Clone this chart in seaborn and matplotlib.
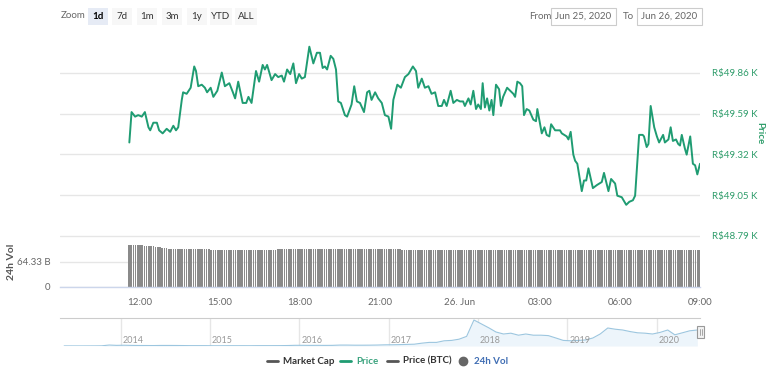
import pandas as pd
import matplotlib
matplotlib.use('Agg')
import matplotlib.pyplot as plt
from matplotlib.patches import Rectangle
from matplotlib.lines import Line2D
import seaborn as sns

# --- THEME ---
sns.set_theme(style='white')
plt.rcParams['font.family'] = ['Lato', 'DejaVu Sans']

W, H = 768, 372

# --- COLORS ---
GREEN = '#1f9c72'
GREEN_TXT = '#2f9d6b'
GRID = '#e6e6e6'
TXT = '#666666'

# --- DATA ---
# price: minutes after 25 Jun 09:00, value in R$ thousands
price_min = [156, 161, 169, 176, 184, 191, 199, 203, 210, 218,
             223, 231, 240, 248, 255, 261, 266, 274, 277, 285,
             294, 302, 306, 311, 319, 326, 331, 339, 345, 354,
             364, 371, 381, 389, 394, 401, 411, 419, 424, 431,
             441, 448, 456, 461, 466, 476, 484, 491, 499, 504,
             511, 518, 525, 531, 538, 544, 551, 561, 570, 578,
             585, 591, 596, 601, 609, 615, 621, 626, 632, 641,
             646, 656, 662, 668, 675, 684, 691, 696, 701, 709,
             716, 724, 731, 739, 745, 750, 759, 767, 776, 784,
             794, 801, 806, 814, 821, 829, 836, 844, 851, 859,
             864, 870, 879, 885, 893, 900, 907, 911, 919, 924,
             930, 936, 941, 947, 951, 956, 961, 966, 971, 975,
             981, 988, 992, 997, 1006, 1013, 1020, 1024, 1029, 1035,
             1040, 1044, 1050, 1056, 1065, 1071, 1074, 1084, 1090, 1095,
             1101, 1105, 1114, 1125, 1129, 1140, 1144, 1149, 1155, 1159,
             1164, 1174, 1179, 1184, 1189, 1199, 1208, 1219, 1224, 1234,
             1240, 1249, 1254, 1264, 1274, 1281, 1289, 1294, 1303, 1311,
             1314, 1320, 1324, 1329, 1337, 1343, 1348, 1357, 1361, 1369,
             1374, 1379, 1386, 1391, 1395, 1399, 1406, 1410, 1418, 1424,
             1429, 1434, 1440]
price_k = [49.40, 49.60, 49.57, 49.58, 49.57, 49.60, 49.50, 49.48, 49.53, 49.53,
           49.48, 49.46, 49.49, 49.47, 49.51, 49.48, 49.50, 49.68, 49.73, 49.72,
           49.76, 49.90, 49.87, 49.77, 49.78, 49.76, 49.73, 49.76, 49.70, 49.74,
           49.86, 49.77, 49.79, 49.73, 49.69, 49.80, 49.66, 49.66, 49.70, 49.66,
           49.87, 49.80, 49.91, 49.88, 49.91, 49.81, 49.85, 49.83, 49.84, 49.80,
           49.88, 49.85, 49.92, 49.79, 49.85, 49.82, 49.83, 50.03, 49.92, 49.99,
           49.99, 49.89, 49.90, 49.88, 49.97, 49.95, 49.88, 49.67, 49.66, 49.58,
           49.57, 49.65, 49.77, 49.67, 49.66, 49.60, 49.73, 49.74, 49.68, 49.73,
           49.69, 49.66, 49.58, 49.57, 49.49, 49.68, 49.78, 49.76, 49.83, 49.85,
           49.90, 49.87, 49.76, 49.82, 49.76, 49.77, 49.72, 49.73, 49.64, 49.64,
           49.68, 49.64, 49.74, 49.66, 49.68, 49.67, 49.67, 49.64, 49.69, 49.65,
           49.74, 49.62, 49.65, 49.62, 49.79, 49.63, 49.69, 49.61, 49.68, 49.58,
           49.78, 49.75, 49.64, 49.70, 49.76, 49.74, 49.72, 49.70, 49.80, 49.79,
           49.77, 49.58, 49.62, 49.61, 49.55, 49.54, 49.62, 49.46, 49.50, 49.45,
           49.44, 49.52, 49.48, 49.48, 49.46, 49.44, 49.42, 49.47, 49.32, 49.28,
           49.26, 49.08, 49.15, 49.15, 49.23, 49.10, 49.12, 49.14, 49.20, 49.08,
           49.16, 49.13, 49.05, 49.04, 48.99, 49.01, 49.02, 49.05, 49.45, 49.45,
           49.44, 49.37, 49.39, 49.64, 49.50, 49.44, 49.40, 49.45, 49.40, 49.42,
           49.50, 49.41, 49.42, 49.39, 49.38, 49.45, 49.36, 49.32, 49.44, 49.26,
           49.25, 49.19, 49.26]
price_ticks = [48.785, 49.053, 49.321, 49.589, 49.857]
price_labels = ['R$48.79 K', 'R$49.05 K', 'R$49.32 K', 'R$49.59 K', 'R$49.86 K']

# 24h volume (billions), one bar every 5 minutes from 11:35
vol_b = [106.0, 106.2, 105.8, 105.5, 105.3,
         105.0, 104.8, 104.5, 104.1, 103.6, 103.0, 102.4, 101.5, 100.6, 99.8, 98.9, 98.0,
         97.3, 96.8, 96.4, 96.0, 95.8, 95.6, 95.4, 95.3, 95.2, 95.1, 95.0, 95.0,
         94.9, 94.9, 94.8, 94.8, 94.8, 94.7, 94.7, 94.7, 94.6, 94.6, 94.6, 94.6,
         94.6, 94.5, 94.5, 94.6, 94.5, 94.5, 94.4, 94.5, 94.5, 94.4, 94.4, 94.5,
         94.5, 94.4, 94.4, 94.5, 94.4, 94.4, 94.5, 94.5, 94.4, 94.4, 94.5, 94.5,
         94.6, 94.6, 94.7, 94.7, 94.8, 94.8, 94.8, 94.9, 94.9, 95.0, 95.0, 95.0,
         95.1, 95.1, 95.2, 95.2, 95.2, 95.3, 95.3, 95.3, 95.3, 95.4, 95.4, 95.4,
         95.4, 95.4, 95.5, 95.5, 95.5, 95.5, 95.5, 95.5, 95.5, 95.5, 95.5, 95.4,
         95.4, 95.4, 95.4, 95.3, 95.3, 95.3, 95.3, 95.2, 95.2, 95.2, 95.2, 95.1,
         95.1, 95.1, 95.0, 95.0, 95.0, 94.9, 94.9, 94.8, 94.8, 94.7, 94.6, 94.5,
         94.3, 94.1, 93.9, 93.7, 93.5, 93.3, 93.1, 93.0, 92.9, 92.8, 92.7, 92.6,
         92.6, 92.5, 92.5, 92.5, 92.4, 92.4, 92.4, 92.4, 92.5, 92.5, 92.5, 92.6,
         92.6, 92.7, 92.7, 92.8, 92.8, 92.9, 92.9, 93.0, 93.0, 93.1, 93.1, 93.2,
         93.2, 93.3, 93.3, 93.3, 93.4, 93.4, 93.4, 93.5, 93.5, 93.5, 93.5, 93.6,
         93.6, 93.6, 93.6, 93.7, 93.7, 93.7, 93.7, 93.8, 93.8, 93.8, 93.8, 93.8,
         93.9, 93.9, 93.9, 93.9, 93.9, 94.0, 94.0, 94.0, 94.0, 94.0, 94.0, 94.1,
         94.1, 94.1, 94.1, 94.1, 94.1, 94.2, 94.2, 94.2, 94.2, 94.2, 94.2, 94.2,
         94.2, 94.3, 94.3, 94.3, 94.3, 94.3, 94.3, 94.3, 94.3, 94.3, 94.3, 94.3,
         94.3, 94.3, 94.3, 94.3, 94.3, 94.3, 94.3, 94.3, 94.3, 94.3, 94.3, 94.3,
         94.3, 94.3, 94.3, 94.3, 94.3, 94.3, 94.3, 94.3, 94.3, 94.3, 94.3, 94.3,
         94.3, 94.3, 94.3, 94.3, 94.3, 94.3, 94.3, 94.3, 94.3, 94.3, 94.3, 94.3,
         94.3]
vol_ticks = [0, 64.33, 128.66]
vol_labels = ['0', '64.33 B', '']

time_ticks = ['2020-06-25 12:00', '2020-06-25 15:00', '2020-06-25 18:00', '2020-06-25 21:00',
              '2020-06-26 00:00', '2020-06-26 03:00', '2020-06-26 06:00', '2020-06-26 09:00']
time_labels = ['12:00', '15:00', '18:00', '21:00', '26. Jun', '03:00', '06:00', '09:00']

# navigator: monthly price history (R$ thousands), May 2013 .. Jun 2020
nav_k = [0.25, 0.22, 0.20, 0.23, 0.29, 0.45, 2.4, 1.6,
         1.9, 1.5, 1.3, 1.2, 1.1, 1.4, 1.4, 1.3, 1.1, 0.9, 0.9, 0.85,
         0.6, 0.6, 0.75, 0.7, 0.72, 0.68, 0.85, 0.88, 0.88, 0.95, 1.2, 1.7,
         1.7, 1.5, 1.6, 1.5, 1.6, 2.3, 2.3, 2.0, 2.0, 2.1, 2.4, 2.9,
         3.1, 3.5, 4.0, 4.5, 7.0, 9.0, 9.0, 13.0, 14.0, 17.0, 24.0, 65.0,
         55.0, 45.0, 35.0, 30.0, 32.0, 27.0, 30.0, 27.0, 27.0, 26.0, 20.0, 14.0,
         13.0, 14.0, 15.0, 20.0, 30.0, 45.0, 42.0, 40.0, 36.0, 33.0, 32.0, 30.0,
         34.0, 40.0, 28.0, 33.0, 38.0, 40.0]
nav_years = ['2014', '2015', '2016', '2017', '2018', '2019', '2020']

range_buttons = ['1d', '7d', '1m', '3m', '1y', 'YTD', 'ALL']
legend_items = ['Market Cap', 'Price', 'Price (BTC)', '24h Vol']


def box(x0, y0, x1, y1):
    """pixel box (top-left origin) -> figure rect"""
    return [x0 / W, 1 - y1 / H, (x1 - x0) / W, (y1 - y0) / H]


def fx(x):
    return x / W


def fy(y):
    return 1 - y / H


fig = plt.figure(figsize=(W / 100, H / 100), dpi=100)
ax_p = fig.add_axes(box(60, 33, 700, 236))
ax_v = fig.add_axes(box(60, 236, 700, 287))
ax_n = fig.add_axes(box(60, 318, 700, 346))

t0 = pd.Timestamp('2020-06-25 09:00')
t1 = pd.Timestamp('2020-06-26 09:00')

# --- PRICE PANEL ---
price_df = pd.DataFrame({'time': t0 + pd.to_timedelta(price_min, unit='min'), 'price': price_k})
sns.lineplot(data=price_df, x='time', y='price', ax=ax_p, color=GREEN, linewidth=1.4, sort=False)
ax_p.set_xlim(t0, t1)
ax_p.set_ylim(48.785, 50.12)
ax_p.set_yticks(price_ticks)
ax_p.set_yticklabels(price_labels)
ax_p.yaxis.tick_right()
ax_p.tick_params(axis='y', length=0, pad=8.5, labelsize=7, labelcolor=GREEN_TXT)
ax_p.set_xticks([])
ax_p.grid(axis='y', color=GRID, linewidth=1)
ax_p.set_xlabel('')
ax_p.set_ylabel('')
for s in ax_p.spines.values():
    s.set_visible(False)
fig.text(fx(760), fy(133), 'Price', rotation=-90, ha='center', va='center',
         fontsize=7, fontweight='bold', color=GREEN_TXT)

# --- VOLUME PANEL ---
vol_df = pd.DataFrame({'time': pd.date_range('2020-06-25 11:35', periods=len(vol_b), freq='5min'),
                       'vol': vol_b})
ax_v.bar(vol_df['time'], vol_df['vol'], width=3.4 / 1440, color='#8a8a8a', linewidth=0)
ax_v.set_xlim(t0, t1)
ax_v.set_ylim(0, 128.66)
ax_v.set_yticks(vol_ticks)
ax_v.set_yticklabels(vol_labels)
ax_v.tick_params(axis='y', length=0, pad=7, labelsize=7, labelcolor=TXT)
ax_v.grid(axis='y', color=GRID, linewidth=1)
ax_v.set_axisbelow(True)
ax_v.set_xticks(pd.to_datetime(time_ticks))
ax_v.set_xticklabels(time_labels)
ax_v.tick_params(axis='x', length=5, width=0.8, color='#ccd6eb', pad=3, labelsize=7, labelcolor=TXT)
for k, s in ax_v.spines.items():
    s.set_visible(k == 'bottom')
ax_v.spines['bottom'].set_color('#ccd6eb')
ax_v.spines['bottom'].set_linewidth(1)
fig.text(fx(12), fy(262), '24h Vol', rotation=90, ha='center', va='center',
         fontsize=7.5, fontweight='bold', color='#555555')

# --- NAVIGATOR ---
nav_df = pd.DataFrame({'time': pd.date_range('2013-05-01', periods=len(nav_k), freq='MS') + pd.Timedelta(days=14),
                       'value': nav_k})
ax_n.fill_between(nav_df['time'], nav_df['value'], color='#edf5fb', linewidth=0)
sns.lineplot(data=nav_df, x='time', y='value', ax=ax_n, color='#9cc6df', linewidth=0.8)
ax_n.set_xlim(pd.Timestamp('2013-04-28'), pd.Timestamp('2020-06-26'))
ax_n.set_ylim(0, 70)
year_dates = pd.to_datetime([y + '-01-01' for y in nav_years])
ax_n.set_xticks(year_dates)
ax_n.set_xticklabels([])
ax_n.set_yticks([])
ax_n.tick_params(axis='x', length=0)
ax_n.grid(axis='x', color=GRID, linewidth=1)
ax_n.set_xlabel('')
ax_n.set_ylabel('')
for d, y in zip(year_dates, nav_years):
    ax_n.text(d + pd.Timedelta(days=8), 0.18, y, transform=ax_n.get_xaxis_transform(),
              ha='left', va='center', fontsize=6.5, color='#999999')
for k, s in ax_n.spines.items():
    s.set_visible(k == 'top')
ax_n.spines['top'].set_color('#cccccc')
ax_n.spines['top'].set_linewidth(0.8)
# right handle
fig.add_artist(Rectangle((fx(697), fy(338)), 7 / W, 12 / H, transform=fig.transFigure,
                         facecolor='#f2f2f2', edgecolor='#999999', linewidth=0.8))
for hx in (699.5, 701.5):
    fig.add_artist(Line2D([fx(hx), fx(hx)], [fy(335), fy(329)], transform=fig.transFigure,
                          color='#999999', linewidth=0.6))

# --- TOOLBAR ---
fig.text(fx(73), fy(16), 'Zoom', ha='center', va='center', fontsize=7, color=TXT)
btn_x = [98, 122, 147, 172, 197, 221, 246]
btn_w = [20, 20, 20, 20, 20, 22, 22]
for i, (lab, cx, bw) in enumerate(zip(range_buttons, btn_x, btn_w)):
    fc = '#e6ebf5' if i == 0 else '#f7f7f7'
    fig.add_artist(Rectangle((fx(cx - bw / 2), fy(25)), bw / W, 17 / H, transform=fig.transFigure,
                             facecolor=fc, edgecolor='none'))
    fig.text(fx(cx), fy(16.5), lab, ha='center', va='center', fontsize=7,
             color='#000000' if i == 0 else '#333333', fontweight='bold' if i == 0 else 'normal')

fig.text(fx(540), fy(16.5), 'From', ha='center', va='center', fontsize=7, color=TXT)
fig.text(fx(628), fy(16.5), 'To', ha='center', va='center', fontsize=7, color=TXT)
for x0, x1, lab in [(551, 616, 'Jun 25, 2020'), (637, 702, 'Jun 26, 2020')]:
    fig.add_artist(Rectangle((fx(x0), fy(25)), (x1 - x0) / W, 17 / H, transform=fig.transFigure,
                             facecolor='white', edgecolor='#cccccc', linewidth=0.8))
    fig.text(fx((x0 + x1) / 2), fy(16.5), lab, ha='center', va='center', fontsize=7, color='#666666')

# --- LEGEND ---
ly = fy(361)
leg_marker_x = [267, 340, 387, 463]
leg_text_x = [283, 356, 403, 474]
leg_colors = ['#555555', GREEN, '#555555', '#666666']
leg_text_colors = ['#333333', '#3aa37e', '#333333', '#3f6db3']
for i, (lab, mx, tx) in enumerate(zip(legend_items, leg_marker_x, leg_text_x)):
    if lab == '24h Vol':
        fig.add_artist(Line2D([fx(mx)], [ly], transform=fig.transFigure, marker='o', markersize=6,
                              color=leg_colors[i], linestyle='none'))
    else:
        fig.add_artist(Line2D([fx(mx), fx(mx + 11)], [ly, ly], transform=fig.transFigure,
                              color=leg_colors[i], linewidth=2))
    fig.text(fx(tx), ly, lab, ha='left', va='center', fontsize=7, fontweight='bold',
             color=leg_text_colors[i])

fig.savefig('out.png', dpi=100)
